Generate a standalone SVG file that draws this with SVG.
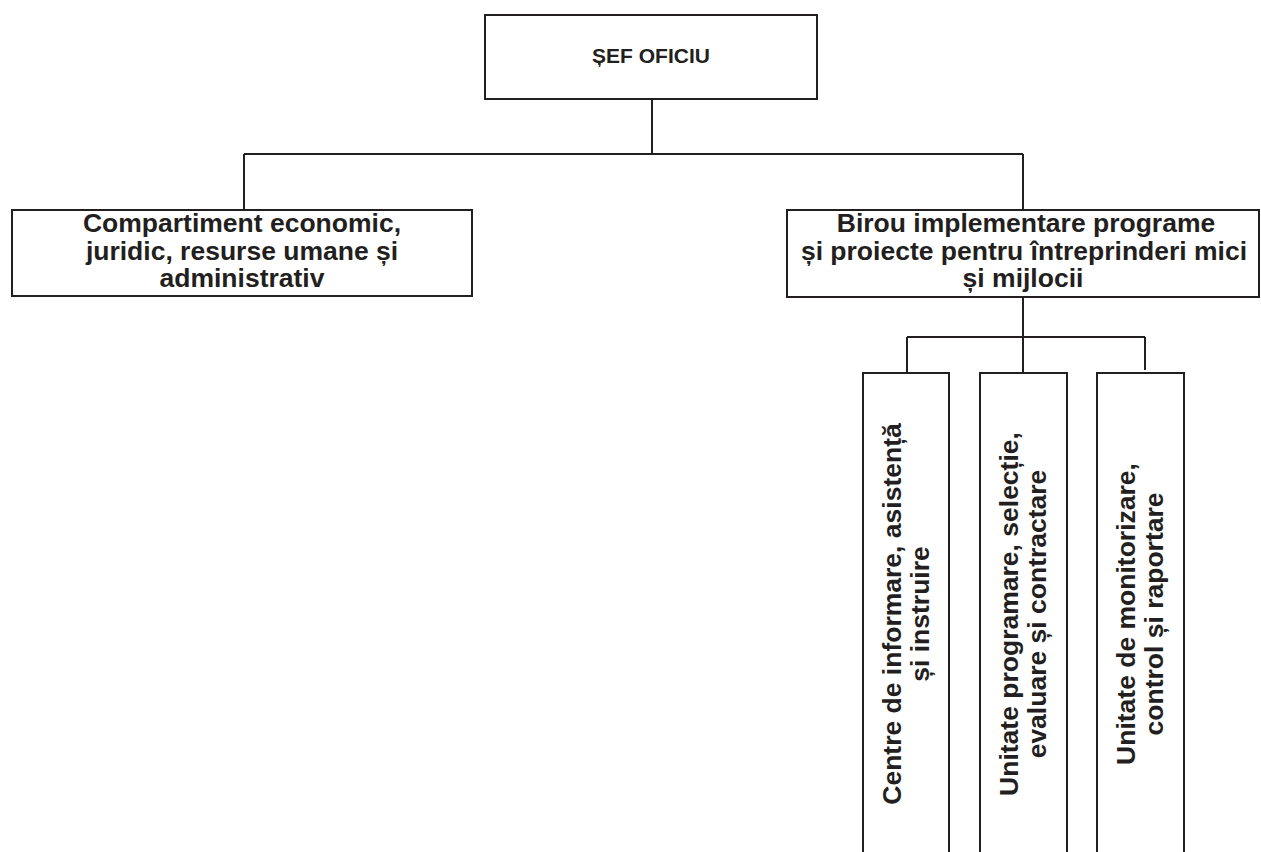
<svg xmlns="http://www.w3.org/2000/svg" width="1261" height="852" viewBox="0 0 1261 852">
<style>
.box{fill:#fff;stroke:#231f20;stroke-width:2}
.ln{fill:none;stroke:#231f20;stroke-width:2}
.t{font-family:"Liberation Sans",Arial,sans-serif;font-weight:bold;font-size:26.5px;fill:#231f20;text-anchor:middle}
.ts{font-size:21px}
</style>
<rect width="1261" height="852" fill="#fff"/>
<g id="connectors">
<path class="ln" d="M652 99V154M244 154H1023M244 154V210M1023 154V210M1023 297V372M907 337H1145M907 337V372M1145 337V370"/>
</g>
<g id="sef">
<rect class="box" x="485" y="15" width="332" height="84"/>
<text class="t ts" x="651" y="63">ȘEF OFICIU</text>
</g>
<g id="compartiment">
<rect class="box" x="12" y="210" width="460" height="86"/>
<text class="t" x="242" y="232">Compartiment economic,</text>
<text class="t" x="242" y="260">juridic, resurse umane și</text>
<text class="t" x="242" y="287">administrativ</text>
</g>
<g id="birou">
<rect class="box" x="787" y="210" width="472" height="87"/>
<text class="t" x="1026" y="232">Birou implementare programe</text>
<text class="t" x="1024" y="260">și proiecte pentru întreprinderi mici</text>
<text class="t" x="1023" y="287">și mijlocii</text>
</g>
<g id="centre">
<rect class="box" x="863" y="373" width="86" height="490"/>
<g transform="translate(906,614) rotate(-90)">
<text class="t" x="0" y="-5">Centre de informare, asistență</text>
<text class="t" x="0" y="23">și instruire</text>
</g>
</g>
<g id="unitate-programare">
<rect class="box" x="980" y="373" width="87" height="490"/>
<g transform="translate(1023,614) rotate(-90)">
<text class="t" x="0" y="-5">Unitate programare, selecție,</text>
<text class="t" x="0" y="23">evaluare și contractare</text>
</g>
</g>
<g id="unitate-monitorizare">
<rect class="box" x="1097" y="373" width="87" height="490"/>
<g transform="translate(1140,614) rotate(-90)">
<text class="t" x="0" y="-5">Unitate de monitorizare,</text>
<text class="t" x="0" y="23">control și raportare</text>
</g>
</g>
</svg>
